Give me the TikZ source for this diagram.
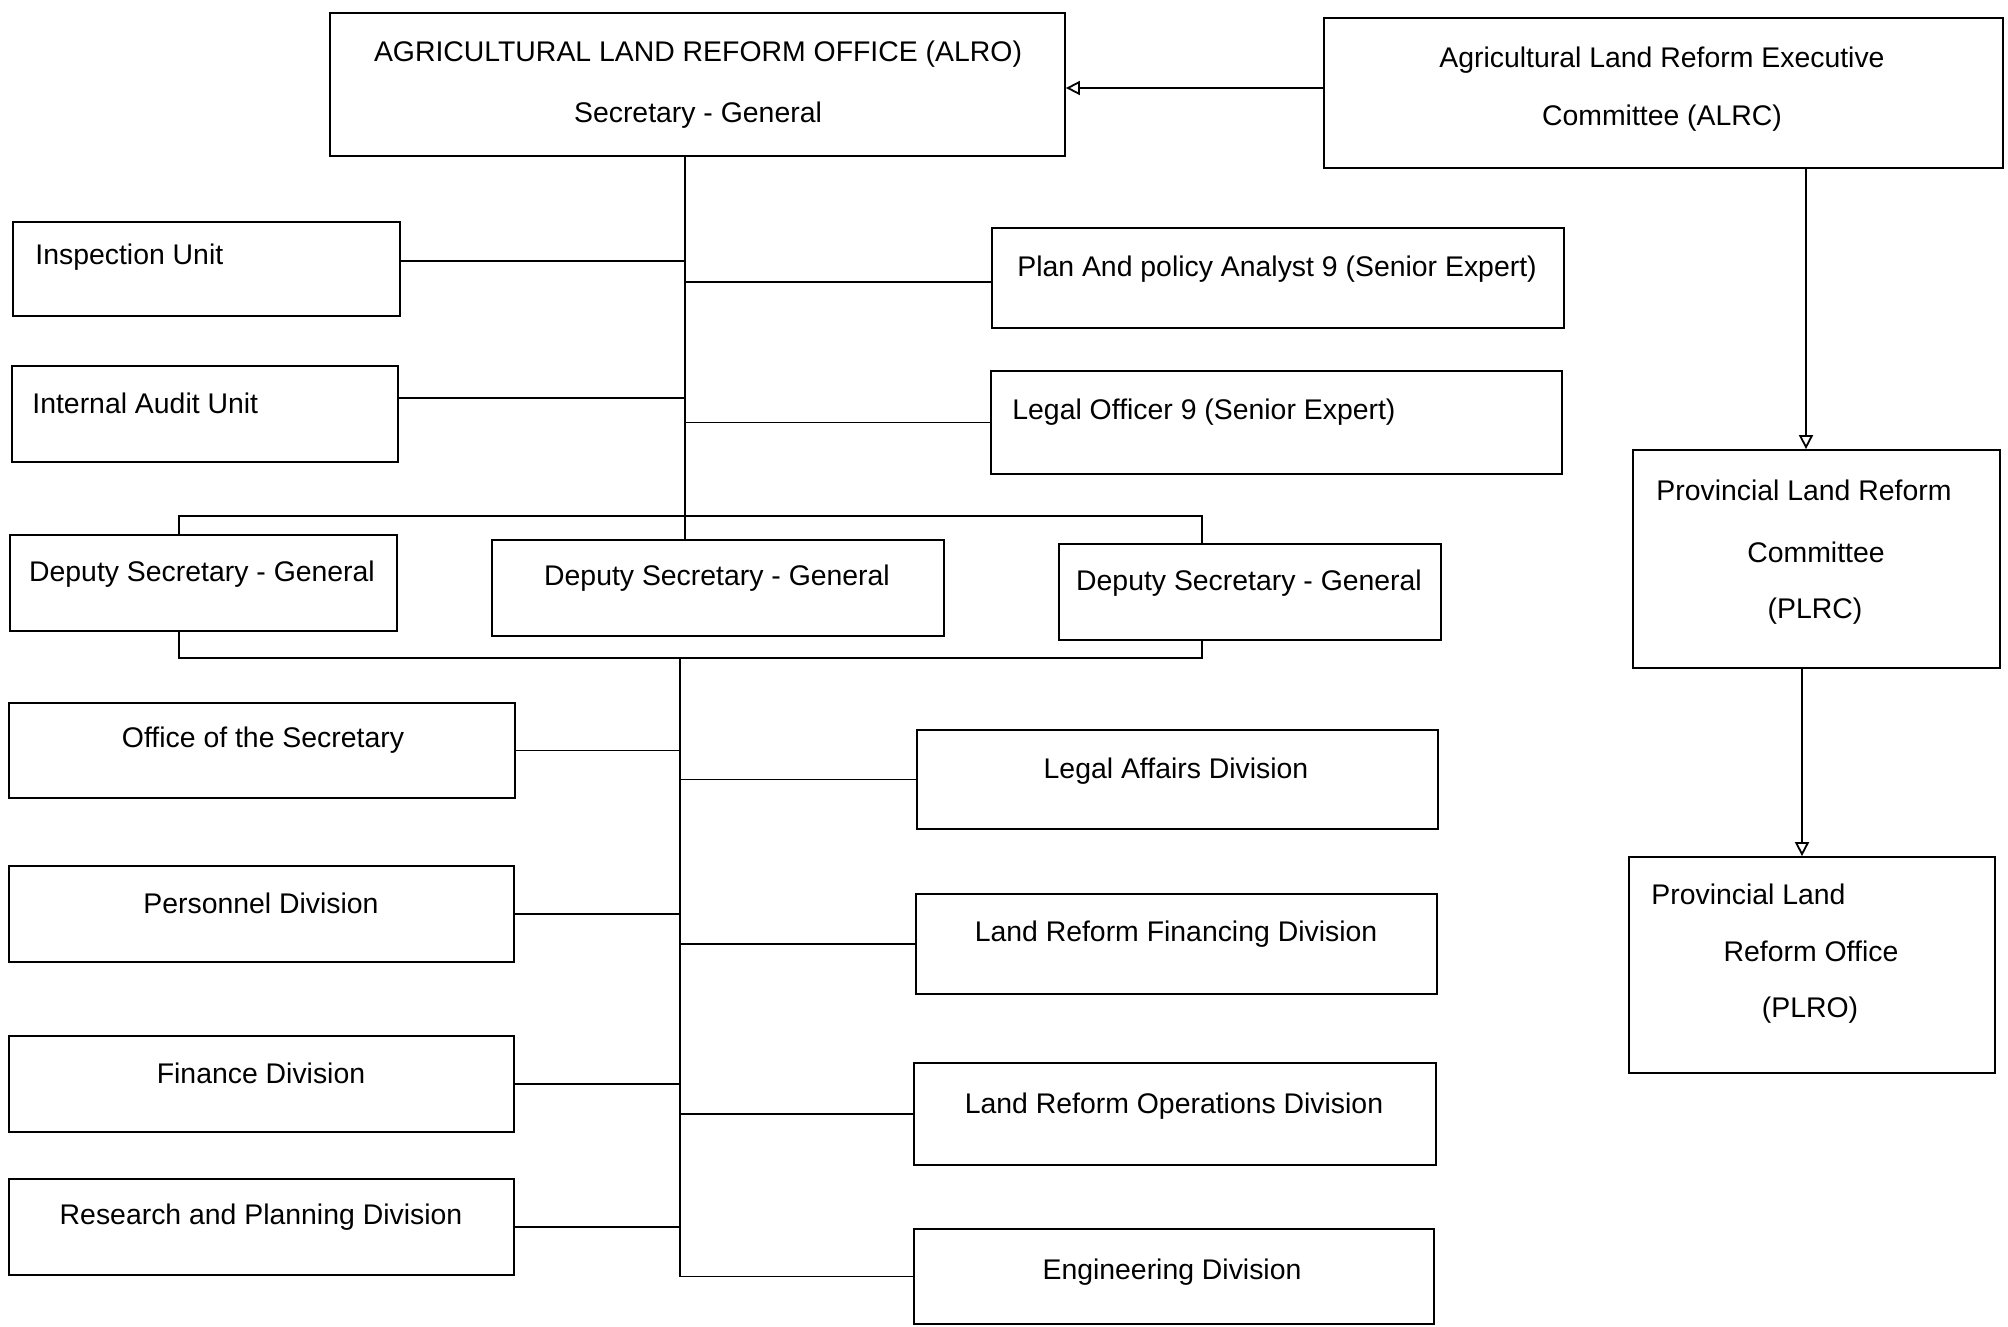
\documentclass[tikz,border=0pt]{standalone}
\usepackage{fontspec}
\setmainfont{Liberation Sans}
\usepackage{tikz}
\usetikzlibrary{positioning,%
  fit,%
  arrows.meta,%
  calc
}

\begin{document}
\begin{tikzpicture}
            [
                x=0.5pt,y=-0.5pt,
                box/.style={draw,inner sep=0pt,line width=0.9pt},
                txt/.style={inner sep=0pt,font=\fontsize{14.2}{17}\selectfont},
                link/.style={line width=0.9pt},
                arr/.style={line width=0.9pt,-{Triangle[open,length=7pt,width=7pt]}}
            ]

            \useasboundingbox (0,0) rectangle (2008,1327);

            % top of the office and the committees
            \node[box,fit={(330,13) (1065,156)}] (alro) {};
            \node[txt] (alroA) at (698,54) {AGRICULTURAL LAND REFORM OFFICE (ALRO)};
            \node[txt] (alroB) at (698,115) {Secretary - General};

            \node[box,fit={(1324,18) (2003,168)}] (alrc) {};
            \node[txt] (alrcA) at (1662,60) {Agricultural Land Reform Executive};
            \node[txt] (alrcB) at (1662,118) {Committee (ALRC)};

            \node[box,fit={(1633,450) (2000,668)}] (plrc) {};
            \node[txt,anchor=west] (plrcA) at (1656,490) {Provincial Land Reform};
            \node[txt] (plrcB) at (1816,552) {Committee};
            \node[txt] (plrcC) at (1815,611) {(PLRC)};

            \node[box,fit={(1629,857) (1995,1073)}] (plro) {};
            \node[txt,anchor=west] (plroA) at (1651,894) {Provincial Land};
            \node[txt] (plroB) at (1811,951) {Reform Office};
            \node[txt] (plroC) at (1810,1010) {(PLRO)};

            % staff units
            \node[box,fit={(13,222) (400,316)}] (insp) {};
            \node[txt,anchor=west] (inspT) at (35,257) {Inspection Unit};
            \node[box,fit={(12,366) (398,462)}] (audit) {};
            \node[txt,anchor=west] (auditT) at (32,403) {Internal Audit Unit};
            \node[box,fit={(992,228) (1564,328)}] (plan) {};
            \node[txt] (planT) at (1277,269) {Plan And policy Analyst 9 (Senior Expert)};
            \node[box,fit={(991,371) (1562,474)}] (legal) {};
            \node[txt,anchor=west] (legalT) at (1012,412) {Legal Officer 9 (Senior Expert)};

            % deputies
            \node[box,fit={(10,535) (397,631)}] (dsgA) {};
            \node[txt] (dsgAT) at (202,574) {Deputy Secretary - General};
            \node[box,fit={(492,540) (944,636)}] (dsgB) {};
            \node[txt] (dsgBT) at (717,578) {Deputy Secretary - General};
            \node[box,fit={(1059,544) (1441,640)}] (dsgC) {};
            \node[txt] (dsgCT) at (1249,583) {Deputy Secretary - General};

            % divisions
            \node[box,fit={(9,703) (515,798)}] (office) {};
            \node[txt] (officeT) at (263,740) {Office of the Secretary};
            \node[box,fit={(9,866) (514,962)}] (pers) {};
            \node[txt] (persT) at (261,903) {Personnel Division};
            \node[box,fit={(9,1036) (514,1132)}] (fin) {};
            \node[txt] (finT) at (261,1073) {Finance Division};
            \node[box,fit={(9,1179) (514,1275)}] (res) {};
            \node[txt] (resT) at (261,1217) {Research and Planning Division};

            \node[box,fit={(917,730) (1438,829)}] (laff) {};
            \node[txt] (laffT) at (1176,771) {Legal Affairs Division};
            \node[box,fit={(916,894) (1437,994)}] (lfin) {};
            \node[txt] (lfinT) at (1176,934) {Land Reform Financing Division};
            \node[box,fit={(914,1063) (1436,1165)}] (lops) {};
            \node[txt] (lopsT) at (1174,1106) {Land Reform Operations Division};
            \node[box,fit={(914,1229) (1434,1324)}] (eng) {};
            \node[txt] (engT) at (1172,1272) {Engineering Division};

            % connectors
            \coordinate (brL) at (179,516);
            \coordinate (brT) at (685,516);
            \coordinate (brR) at (1202,516);
            \coordinate (bbL) at (179,658);
            \coordinate (bbT) at (680,658);
            \coordinate (bbR) at (1202,658);
            \coordinate (upX) at (1806,0);
            \coordinate (dnX) at (1802,0);

            \draw[arr] ([yshift=2.5pt]alrc.west) -- ([yshift=2.5pt]alro.east |- alrc.west);
            \draw[arr] (alrc.south -| upX) -- (plrc.north -| upX);
            \draw[arr] (plrc.south -| dnX) -- (plro.north -| dnX);

            \draw[link] (alro.south -| brT) -- (dsgB.north -| brT);
            \draw[link] ([yshift=4pt]insp.east) -- ([yshift=4pt]insp.east -| brT);
            \draw[link] ([yshift=8pt]audit.east) -- ([yshift=8pt]audit.east -| brT);
            \draw[link] ([yshift=-2pt]plan.west) -- ([yshift=-2pt]plan.west -| brT);
            \draw[link] (legal.west) -- (legal.west -| brT);

            \draw[link] (dsgA.north -| brL) -- (brL) -- (brR) -- (dsgC.north -| brR);
            \draw[link] (dsgA.south -| bbL) -- (bbL) -- (bbR) -- (dsgC.south -| bbR);

            \draw[link] (bbT) -- (eng.west -| bbT) -- (eng.west);
            \foreach \n in {office,pers,fin,res}
                \draw[link] (\n.east) -- (\n.east -| bbT);
            \foreach \n in {laff,lfin,lops}
                \draw[link] (\n.west) -- (\n.west -| bbT);
\end{tikzpicture}
\end{document}
